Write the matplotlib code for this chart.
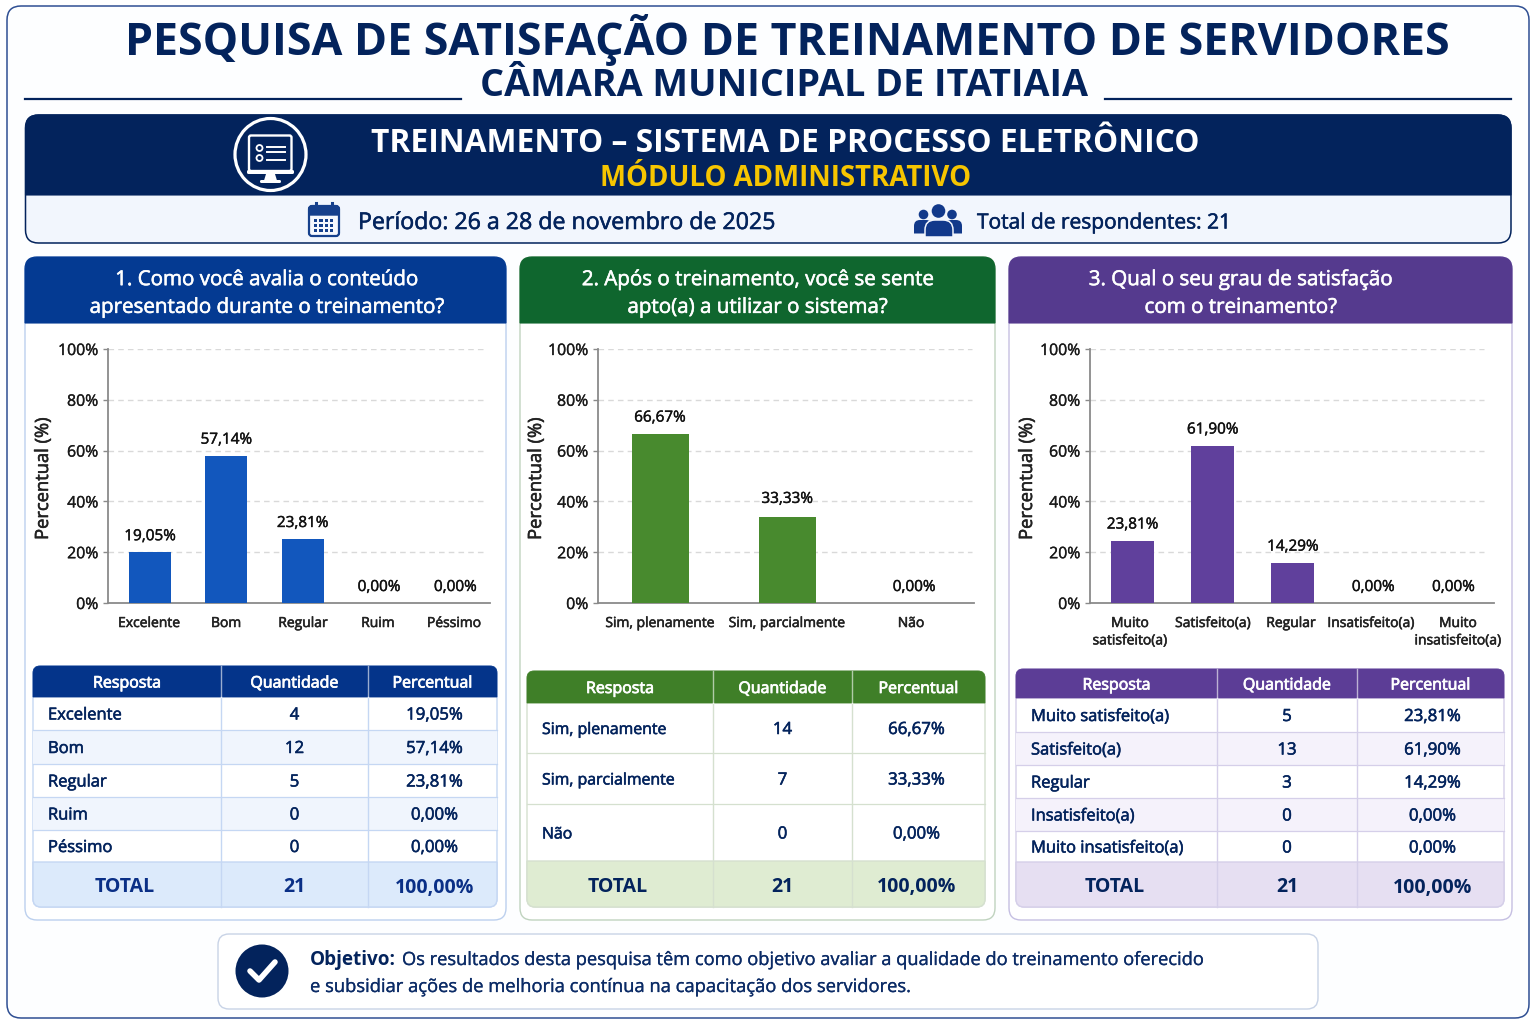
import matplotlib
matplotlib.use("Agg")
import matplotlib.pyplot as plt
import matplotlib.patheffects as pe
from matplotlib.patches import PathPatch, Rectangle, Circle, Polygon, Ellipse
from matplotlib.path import Path

plt.rcParams['font.family'] = ['Open Sans', 'DejaVu Sans']

# ---------- data ----------
title_main = "PESQUISA DE SATISFAÇÃO DE TREINAMENTO DE SERVIDORES"
title_sub = "CÂMARA MUNICIPAL DE ITATIAIA"
band_title = "TREINAMENTO – SISTEMA DE PROCESSO ELETRÔNICO"
band_sub = "MÓDULO ADMINISTRATIVO"
period_text = "Período: 26 a 28 de novembro de 2025"
resp_text = "Total de respondentes: 21"

q1_title = "1. Como você avalia o conteúdo\napresentado durante o treinamento?"
q1_cats = ["Excelente", "Bom", "Regular", "Ruim", "Péssimo"]
q1_axis_labels = ["Excelente", "Bom", "Regular", "Ruim", "Péssimo"]
q1_counts = [4, 12, 5, 0, 0]
q1_pct = [19.05, 57.14, 23.81, 0.0, 0.0]
q1_bar_heights = [20.0, 58.0, 25.2, 0.0, 0.0]

q2_title = "2. Após o treinamento, você se sente\napto(a) a utilizar o sistema?"
q2_cats = ["Sim, plenamente", "Sim, parcialmente", "Não"]
q2_axis_labels = ["Sim, plenamente", "Sim, parcialmente", "Não"]
q2_counts = [14, 7, 0]
q2_pct = [66.67, 33.33, 0.0]
q2_bar_heights = [66.7, 33.9, 0.0]

q3_title = "3. Qual o seu grau de satisfação\ncom o treinamento?"
q3_cats = ["Muito satisfeito(a)", "Satisfeito(a)", "Regular", "Insatisfeito(a)", "Muito insatisfeito(a)"]
q3_axis_labels = ["Muito\nsatisfeito(a)", "Satisfeito(a)", "Regular", "Insatisfeito(a)", "Muito\ninsatisfeito(a)"]
q3_counts = [5, 13, 3, 0, 0]
q3_pct = [23.81, 61.90, 14.29, 0.0, 0.0]
q3_bar_heights = [24.6, 62.0, 15.9, 0.0, 0.0]

table_head = ["Resposta", "Quantidade", "Percentual"]
total_label = "TOTAL"
total_count = 21
total_pct = 100.0
y_ticks = [0, 20, 40, 60, 80, 100]

# ---------- layout & styles ----------
W, H = 1536, 1024
NAVY = "#03235c"
fig = plt.figure(figsize=(W / 100, H / 100), dpi=100, facecolor="white")
bg = fig.add_axes([0, 0, 1, 1], zorder=0)
bg.set_xlim(0, W); bg.set_ylim(H, 0); bg.axis("off")
renderer = fig.canvas.get_renderer()


def rrect(x0, y0, x1, y1, r=10, corners="tl tr br bl", **kw):
    c = corners.split()
    v, k = [], []
    def mv(p): v.append(p); k.append(Path.MOVETO)
    def ln(p): v.append(p); k.append(Path.LINETO)
    def cv(a, b): v.extend([a, b]); k.extend([Path.CURVE3, Path.CURVE3])
    rt = r if "tl" in c else 0
    mv((x0 + rt, y0))
    rt = r if "tr" in c else 0
    ln((x1 - rt, y0))
    if rt: cv((x1, y0), (x1, y0 + rt))
    rt = r if "br" in c else 0
    ln((x1, y1 - rt))
    if rt: cv((x1, y1), (x1 - rt, y1))
    rt = r if "bl" in c else 0
    ln((x0 + rt, y1))
    if rt: cv((x0, y1), (x0, y1 - rt))
    rt = r if "tl" in c else 0
    ln((x0, y0 + rt))
    if rt: cv((x0, y0), (x0 + rt, y0))
    v.append((x0, y0)); k.append(Path.CLOSEPOLY)
    p = PathPatch(Path(v, k), **kw)
    bg.add_patch(p)
    return p


def embolden(t, color, amount=0.4):
    t.set_path_effects([pe.withStroke(linewidth=amount, foreground=color)])


def T(x, y, s, size, color=NAVY, weight="normal", ha="center", va="center", **kw):
    medium = weight == "medium"
    t = bg.text(x, y, s, fontsize=size, color=color, fontweight="normal" if medium else weight, ha=ha, va=va, **kw)
    if medium:
        embolden(t, color)
    return t


def fit(t, width):
    """Scale a text's font size so that it spans the given width in pixels."""
    for _ in range(3):
        t.set_fontsize(t.get_fontsize() * width / t.get_window_extent(renderer).width)
    return t


def fmt(v):
    return f"{v:.2f}".replace(".", ",") + "%"


# outer frame
rrect(7, 6, 1529, 1018, 14, fc="#fdfeff", ec="#2f4f93", lw=1.1)

# titles
fit(T(787, 40, title_main, 33, weight="bold"), 1325)
fit(T(783.5, 86, title_sub, 27, weight="bold"), 607)
bg.plot([25, 461], [99, 99], color=NAVY, lw=1.6)
bg.plot([1105, 1511], [99, 99], color=NAVY, lw=1.6)

# band
rrect(25.5, 115, 1511, 243, 13, fc="#f2f6fd", ec=NAVY, lw=1.1)
rrect(25.5, 115, 1511, 195, 13, corners="tl tr", fc=NAVY, ec=NAVY, lw=0.8)
fit(T(785, 144, band_title, 24, color="white", weight="bold"), 830)
fit(T(786, 179, band_sub, 21, color="#f6c500", weight="bold"), 372)
fit(T(358, 223, period_text, 16, weight="medium", ha="left"), 417)
fit(T(977, 223, resp_text, 16, weight="medium", ha="left"), 253)

# monitor icon
bg.add_patch(Ellipse((270.5, 154.5), 71, 72, fc="none", ec="white", lw=2.3))
rrect(249, 135.5, 291.5, 171, 2, fc="none", ec="white", lw=1.7)
rrect(247, 170, 294, 174, 1.5, fc="white", ec="none")
bg.add_patch(Polygon([(266, 174), (275, 174), (277, 180.5), (264, 180.5)], fc="white", ec="none"))
rrect(260, 180, 281, 183, 1.4, fc="white", ec="none")
for yy in (148, 158):
    bg.add_patch(Circle((259.5, yy), 3, fc="none", ec="white", lw=1.3))
for yy in (147, 152, 160):
    bg.plot([267, 285], [yy, yy], color="white", lw=1.4)

# calendar icon
CAL = "#16408c"
rrect(309, 206, 339, 236, 3, fc="#f7f9fe", ec=CAL, lw=1.6)
rrect(309, 206, 339, 215, 3, corners="tl tr", fc=CAL, ec=CAL, lw=1)
for xx in (316, 332):
    bg.plot([xx, xx], [203, 209], color=CAL, lw=2.2)
for r_ in range(3):
    for c_ in range(4):
        bg.add_patch(Rectangle((314 + c_ * 5.3, 218.5 + r_ * 5), 3.4, 3.2, fc=CAL, ec="none"))

# people icon
PC = "#12398a"
for cx, bx0, bx1 in [(923.5, 914, 932), (952, 945, 962)]:
    bg.add_patch(Circle((cx, 214.5), 4.8, fc=PC, ec="none"))
    rrect(bx0, 220, bx1, 233.5, 6, corners="tl tr", fc=PC, ec="none")
rrect(925, 220, 953, 237, 10, corners="tl tr", fc=PC, ec="#f2f6fd", lw=1.1)
bg.add_patch(Circle((938.5, 211), 6.8, fc=PC, ec="none"))

# objective box
rrect(218, 934, 1318, 1009, 11, fc="white", ec="#c8d3e6", lw=1.0)
bg.add_patch(Circle((262, 971), 26.5, fc=NAVY, ec="none"))
bg.plot([250, 259, 275], [971, 980, 962], color="white", lw=4, solid_capstyle="round", solid_joinstyle="round")
fit(T(310, 960, "Objetivo:", 14, weight="bold", ha="left"), 86)
o1 = fit(T(402, 960, "Os resultados desta pesquisa têm como objetivo avaliar a qualidade do treinamento oferecido",
           13, ha="left", color="#0b2b66"), 802)
o2 = fit(T(310, 987, "e subsidiar ações de melhoria contínua na capacitação dos servidores.", 13, ha="left",
           color="#0b2b66"), 601)
embolden(o1, "#0b2b66", 0.2)
embolden(o2, "#0b2b66", 0.2)


def panel(px0, px1, head_col, border, q_title, qdx,
          ax_x0, ax_x1, c0, dx, bw, label_xs, axis_labels, pct, heights, bar_col, grid_end, ylab_x,
          tx0, tcol1, tcol2, tx1, t_lines, th_col, t_line, zebra, tot_bg, tot_text,
          cats, counts, text_x, pct_dx, cat_size=11.9, label_dy=None):
    # panel and header
    rrect(px0, 257, px1, 920, 12, fc="white", ec=border, lw=1.0)
    rrect(px0, 257, px1, 323, 12, corners="tl tr", fc=head_col, ec=head_col, lw=0.8)
    T((px0 + px1) / 2 + qdx, 293.5, q_title, 14.8, color="white", weight="medium", linespacing=1.42)

    # chart axes
    ax = fig.add_axes([ax_x0 / W, 1 - 603 / H, (ax_x1 - ax_x0) / W, 254 / H], zorder=2)
    ax.patch.set_alpha(0)
    xl = (ax_x0 - c0) / dx
    xr = (ax_x1 - c0) / dx
    ax.set_xlim(xl, xr)
    ax.set_ylim(0, 100)
    xs = list(range(len(pct)))
    ax.bar(xs, heights, width=bw / dx, color=bar_col, zorder=3)
    for s in ("top", "right"):
        ax.spines[s].set_visible(False)
    for s in ("left", "bottom"):
        ax.spines[s].set_color("#8a8a8a")
        ax.spines[s].set_linewidth(1.3)
    ax.set_yticks(y_ticks)
    ax.set_yticklabels([f"{v}%" for v in y_ticks], fontsize=11.4, color="#1a1a1a")
    ax.tick_params(axis="y", length=3.5, color="#8a8a8a", width=1, pad=3.5)
    for lbl in ax.get_yticklabels():
        embolden(lbl, "#1a1a1a", 0.25)
    ax.set_xticks([])
    for v in y_ticks[1:]:
        ax.plot([xl, (grid_end - c0) / dx], [v, v], color="#d9d9d9", lw=1, ls=(0, (4, 3)), zorder=1)
    dys = label_dy or [8] * len(pct)
    for x, h, v, dy in zip(xs, heights, pct, dys):
        a = ax.annotate(fmt(v), (x, h), xytext=(0, dy), textcoords="offset pixels",
                        ha="center", va="bottom", fontsize=11, color="#111111")
        embolden(a, "#111111", 0.3)
    for lx, lab in zip(label_xs, axis_labels):
        T(lx, 616, lab, 10, color="#222222", va="top", linespacing=1.22, zorder=5, weight="medium")
    T(ylab_x, 478.5, "Percentual (%)", 13.2, color="#222222", weight="medium", rotation=90)

    # table
    rows = t_lines
    rrect(tx0, rows[0], tx1, rows[-1], 8, fc="white", ec=t_line, lw=1, zorder=2)
    rrect(tx0, rows[0], tx1, rows[1], 7, corners="tl tr", fc=th_col, ec=th_col, lw=0.6, zorder=3)
    n = len(cats)
    xc = [(tx0 + tcol1) / 2, (tcol1 + tcol2) / 2, (tcol2 + tx1) / 2]
    for i, h in enumerate(table_head):
        t = T(xc[i], (rows[0] + rows[1]) / 2 + 2, h, 11.5, color="white", zorder=5)
        embolden(t, "white", 0.55)
    for i in range(n):
        y0, y1 = rows[i + 1], rows[i + 2]
        if zebra and i % 2 == 1:
            bg.add_patch(Rectangle((tx0, y0), tx1 - tx0, y1 - y0, fc=zebra, ec="none", zorder=2.5))
        ym = (y0 + y1) / 2 + 2
        T(text_x, ym, cats[i], cat_size, weight="medium", ha="left", zorder=5)
        T(xc[1], ym, str(counts[i]), 12.1, weight="medium", zorder=5)
        T(xc[2] + pct_dx, ym, fmt(pct[i]), 12.1, weight="medium", zorder=5)
        if i < n - 1:
            bg.plot([tx0, tx1], [y1, y1], color=t_line, lw=0.9, zorder=3)
    rrect(tx0, rows[-2], tx1, rows[-1], 8, corners="br bl", fc=tot_bg, ec=t_line, lw=1, zorder=3)
    ym = (rows[-2] + rows[-1]) / 2 + 3
    T(xc[0] - 2, ym, total_label, 14, color=tot_text, weight="bold", zorder=5)
    T(xc[1], ym, str(total_count), 14, color=tot_text, weight="bold", zorder=5)
    T(xc[2] + pct_dx, ym, fmt(total_pct), 14, color=tot_text, weight="bold", zorder=5)
    for cx in (tcol1, tcol2):
        bg.plot([cx, cx], [rows[1], rows[-1]], color=t_line, lw=1, zorder=4)
        bg.plot([cx, cx], [rows[0], rows[1]], color="#ffffff", alpha=0.6, lw=1, zorder=4)


panel(25, 506, "#043a92", "#bcd0ee", q1_title, 1,
      108, 490, 150, 76.3, 42, [149, 226, 303, 378, 454], q1_axis_labels, q1_pct, q1_bar_heights, "#1257bd", 486, 43,
      33, 221, 368, 497, [666, 697, 730, 764, 797, 830, 862, 907], "#04348a", "#c5d7f3", "#f0f5fd", "#dceafb", "#0a2f86",
      q1_cats, q1_counts, 48, 2)
panel(520, 995, "#0f662e", "#c0d3bf", q2_title, 0,
      598, 974, 660, 127, 57, [660, 787, 911], q2_axis_labels, q2_pct, q2_bar_heights, "#488a2e", 972, 536,
      527, 713, 852, 985, [671, 703, 753, 804, 861, 907], "#3f7f28", "#d5e0cf", None, "#dfecd2", NAVY,
      q2_cats, q2_counts, 542, -2, cat_size=11.4, label_dy=[8, 10, 8])
panel(1009, 1512, "#553a8e", "#c5bfe2", q3_title, -20,
      1090, 1494, 1132.5, 80.2, 43, [1130, 1213, 1291, 1371, 1458], q3_axis_labels, q3_pct, q3_bar_heights, "#60409c", 1484, 1027,
      1016, 1217, 1357, 1504, [669, 698, 732, 765, 798, 831, 862, 907], "#5c3d96", "#d5cfe9", "#f5f2fb", "#e6dff2", NAVY,
      q3_cats, q3_counts, 1031, 2)

fig.savefig("out.png", dpi=100)
